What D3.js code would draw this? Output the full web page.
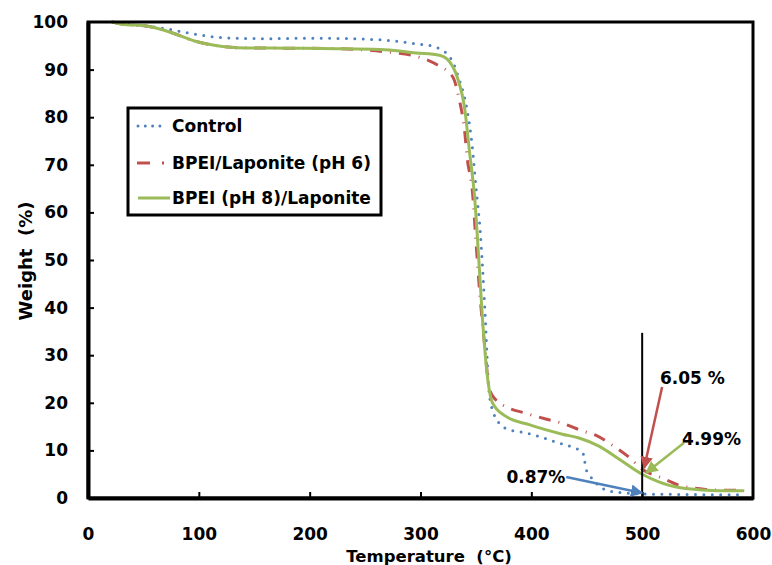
<!DOCTYPE html>
<html><head><meta charset="utf-8">
<script src="https://cdn.jsdelivr.net/npm/d3@7"></script>
<style>
body{margin:0;background:#fff;}
text{font-family:"DejaVu Sans",sans-serif;font-weight:bold;fill:#000;white-space:pre;}
</style></head><body>
<svg id="c" width="772" height="565"></svg>
<script>
// ---- data ----
const xTicks = [0,100,200,300,400,500,600];
const yTicks = [0,10,20,30,40,50,60,70,80,90,100];
const seriesNames = ["Control","BPEI/Laponite (pH 6)","BPEI (pH 8)/Laponite"];
const controlT = [22,30,50,70,93,123,160,200,250,281,296,311,326,335,342,347,350,354,358,362,366,371,379,394,409,424,439,446,448,449,452,457,467,482,500,530,560,588];
const controlW = [100,99.7,99.2,98.6,97.6,96.7,96.5,96.6,96.4,95.9,95.4,94.9,92.8,87.9,81.6,73.2,65.4,55.7,40,22,17.8,15.7,14.4,13.7,12.8,11.6,10.5,9.7,8,6.3,5.0,3.5,1.7,1.1,0.87,0.75,0.7,0.7];
const ph6T = [22,30,54,75,96,114,135,180,225,266,296,302,315,329,335,340,342,347,350,353,358,362,368,377,395,413,428,446,458,473,488,500,518,533,554,563,592];
const ph6W = [100,99.6,99.1,97.8,96,95.1,94.6,94.5,94.4,93.8,92.8,92.4,91.0,88.5,83.7,76.7,71.7,64,54,44.4,31.8,23,20.6,19.2,17.8,16.6,15.7,14.1,13.2,11.1,8.6,6.05,4.2,2.7,1.9,1.7,1.6];
const ph8T = [22,30,54,75,96,114,135,180,225,263,281,296,317,326,333,340,344,349,353,356,360,365,376,398,428,443,461,479,500,515,533,563,592];
const ph8W = [100,99.6,99.1,97.8,96,95.1,94.6,94.5,94.4,94.2,93.9,93.5,93.0,91.7,88.5,81.6,73.2,62.7,48.6,37.4,26.3,20,17.3,15.4,13.4,12.6,10.9,8.2,4.99,3.4,2.2,1.6,1.5];
const markerLine = {T:500, top:34.7};
const labelsText = ["6.05 %","4.99%","0.87%"];
const labelsT = [516,536,377.5];
const labelsW = [25.2,12.4,4.4];
const arrowFromT = [518,537.8,431.5];
const arrowFromW = [23.3,11.6,4.4];
const arrowToT = [501.8,503.6,500];
const arrowToW = [6.3,5.3,1.05];

// ---- styles ----
const colors = ["#4F81BD","#C0504D","#9BBB59"];
const dashes = ["0 8.4","12 8 1 8",null];
const caps = ["round","butt","butt"];
const series = [[controlT,controlW],[ph6T,ph6W],[ph8T,ph8W]];

const svg = d3.select("#c");
const L=88,R=753,T=22,B=498;
const x = d3.scaleLinear().domain([0,600]).range([L,R]);
const y = d3.scaleLinear().domain([0,100]).range([B,T]);

// curves
const line = d3.line().x(d=>x(d[0])).y(d=>y(d[1])).curve(d3.curveMonotoneX);
series.forEach((s,i)=>{
  const pts = s[0].map((t,j)=>[t,s[1][j]]);
  const p = svg.append("path").attr("d",line(pts)).attr("fill","none")
    .attr("stroke",colors[i]).attr("stroke-width",3).attr("stroke-linecap",caps[i]);
  if(dashes[i]) p.attr("stroke-dasharray",dashes[i]);
});

// frame
svg.append("rect").attr("x",L).attr("y",T).attr("width",R-L).attr("height",B-T)
  .attr("fill","none").attr("stroke","#000").attr("stroke-width",3);

// axes (inside ticks)
const ya = svg.append("g").attr("transform",`translate(${L},0)`)
  .call(d3.axisLeft(y).tickValues(yTicks).tickSizeInner(-6).tickSizeOuter(0).tickPadding(20));
const xa = svg.append("g").attr("transform",`translate(0,${B})`)
  .call(d3.axisBottom(x).tickValues(xTicks).tickSizeInner(-6).tickSizeOuter(0).tickPadding(30));
[ya,xa].forEach(g=>{
  g.select(".domain").attr("stroke","#000").attr("stroke-width",4);
  g.selectAll(".tick line").attr("stroke","#000").attr("stroke-width",2);
  g.selectAll(".tick text").style("font-size","17px").style("font-family","'DejaVu Sans'").style("font-weight","bold").attr("fill","#000");
});
xa.selectAll(".tick").filter(d=>d===0||d===600).select("line").remove();
ya.selectAll(".tick").filter(d=>d===0||d===100).select("line").remove();

// axis titles
svg.append("text").attr("x",429).attr("y",562).attr("text-anchor","middle")
  .style("font-size","16.5px").text("Temperature  (°C)");
svg.append("text").attr("transform","translate(32,261) rotate(-90)").attr("text-anchor","middle")
  .style("font-size","18px").text("Weight  (%)");

// legend
const lg = svg.append("g");
lg.append("rect").attr("x",128).attr("y",108).attr("width",253).attr("height",107)
  .attr("fill","#fff").attr("stroke","#000").attr("stroke-width",3);
const legY = [126,163,198];
seriesNames.forEach((n,i)=>{
  if(i===1){
    lg.append("line").attr("x1",137).attr("x2",150).attr("y1",legY[i]).attr("y2",legY[i])
      .attr("stroke",colors[i]).attr("stroke-width",3);
    lg.append("line").attr("x1",162).attr("x2",164).attr("y1",legY[i]).attr("y2",legY[i])
      .attr("stroke",colors[i]).attr("stroke-width",3);
  } else {
    const l = lg.append("line").attr("x1",138).attr("x2",i===0?167:170).attr("y1",legY[i]).attr("y2",legY[i])
      .attr("stroke",colors[i]).attr("stroke-width",3).attr("stroke-linecap",caps[i]);
    if(dashes[i]) l.attr("stroke-dasharray","0 7.3");
  }
  lg.append("text").attr("x",172).attr("y",legY[i]).attr("dy","0.36em")
    .style("font-size","17px").text(n);
});

// annotations
svg.append("line").attr("x1",x(markerLine.T)).attr("x2",x(markerLine.T))
  .attr("y1",y(markerLine.top)).attr("y2",y(0)).attr("stroke","#000").attr("stroke-width",2);
const defs = svg.append("defs");
colors.forEach((c,i)=>{
  defs.append("marker").attr("id","ah"+i).attr("viewBox","0 0 10 10").attr("refX",9).attr("refY",5)
    .attr("markerWidth",5).attr("markerHeight",5).attr("orient","auto")
    .append("path").attr("d","M0,0L10,5L0,10z").attr("fill",c);
});
const arrowColor = [1,2,0];
arrowFromT.forEach((t,i)=>{
  svg.append("line").attr("x1",x(t)).attr("y1",y(arrowFromW[i]))
    .attr("x2",x(arrowToT[i])).attr("y2",y(arrowToW[i]))
    .attr("stroke",colors[arrowColor[i]]).attr("stroke-width",2.5)
    .attr("marker-end",`url(#ah${arrowColor[i]})`);
});
labelsText.forEach((t,i)=>{
  svg.append("text").attr("x",x(labelsT[i])).attr("y",y(labelsW[i])).attr("dy","0.36em")
    .style("font-size","17px").text(t);
});
</script></body></html>
